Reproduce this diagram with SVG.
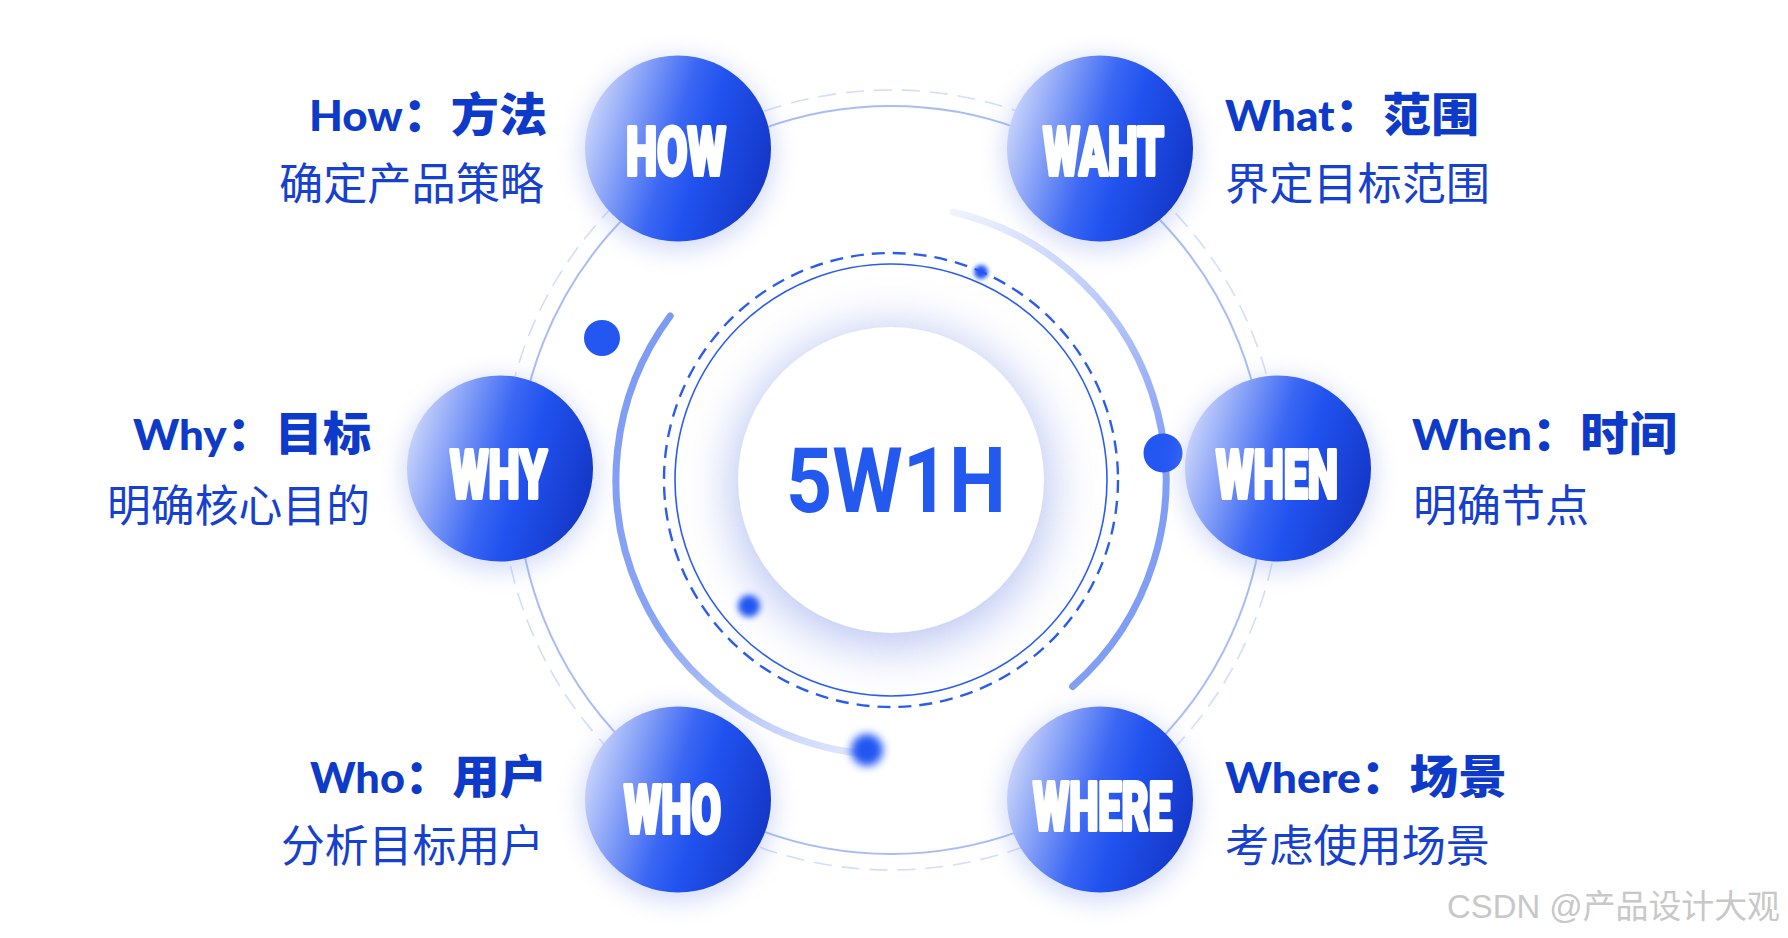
<svg xmlns="http://www.w3.org/2000/svg" width="1788" height="938" viewBox="0 0 1788 938">
<style>
.ring-solid{fill:none;stroke:#a9bcf8;stroke-width:2}
.ring-dash{fill:none;stroke:#d3ddfc;stroke-width:1.6;stroke-dasharray:18 10}
.inner-solid{fill:none;stroke:#2b5cf0;stroke-width:1.6}
.inner-dash{fill:none;stroke:#2b5cf0;stroke-width:2.4;stroke-dasharray:13 8}
.node-bg{fill:url(#nodeGrad)}
.node-glow{fill:#8fa3ef;opacity:0.4;filter:url(#blurNode)}
.node-label{font-family:Roboto,'Liberation Sans',sans-serif;font-weight:900;font-size:67.5px;fill:#fff;stroke:#fff;stroke-width:4;stroke-linejoin:round}
.title{font-family:'Noto Sans CJK SC','Noto Sans',sans-serif;font-weight:900;fill:#0e3ac9}
.lat{font-family:Lato,'Noto Sans CJK SC',sans-serif;font-weight:900;font-size:42px}
.cjk{font-size:46px}
.desc{font-family:'Noto Sans CJK SC',sans-serif;font-weight:400;font-size:44px;fill:#1640d0}
.dot{fill:#2456f2}
</style>
<defs>
  <linearGradient id="nodeGrad" x1="0.02" y1="0.35" x2="1" y2="0.65">
    <stop offset="0" stop-color="#c5d1fa"/>
    <stop offset="0.45" stop-color="#3b67f3"/>
    <stop offset="0.62" stop-color="#2152ef"/>
    <stop offset="1" stop-color="#1336c6"/>
  </linearGradient>
  <linearGradient id="arcLeft" gradientUnits="userSpaceOnUse" x1="670" y1="316" x2="867" y2="754">
    <stop offset="0" stop-color="#7e9bf4"/>
    <stop offset="0.6" stop-color="#8aa5f5"/>
    <stop offset="1" stop-color="#e3e9fd"/>
  </linearGradient>
  <linearGradient id="arcRight" gradientUnits="userSpaceOnUse" x1="953" y1="212" x2="1166" y2="470">
    <stop offset="0" stop-color="#f0f3fe"/>
    <stop offset="1" stop-color="#819ef5"/>
  </linearGradient>
  <filter id="blurNode" x="-50%" y="-50%" width="200%" height="200%"><feGaussianBlur stdDeviation="12"/></filter>
  <filter id="blurCenter" x="-50%" y="-50%" width="200%" height="200%"><feGaussianBlur stdDeviation="24"/></filter>
  <filter id="blur2" x="-100%" y="-100%" width="300%" height="300%"><feGaussianBlur stdDeviation="2"/></filter>
  <filter id="blur3" x="-100%" y="-100%" width="300%" height="300%"><feGaussianBlur stdDeviation="3"/></filter>
  <filter id="blur4" x="-100%" y="-100%" width="300%" height="300%"><feGaussianBlur stdDeviation="4"/></filter>
</defs>
<rect width="1788" height="938" fill="#ffffff"/>

<g id="connectors">
  <circle class="ring-dash" cx="891" cy="480" r="390"/>
  <circle class="ring-solid" cx="891" cy="480" r="374"/>
  <path d="M670.2 316 A275 275 0 0 0 867 754" fill="none" stroke="url(#arcLeft)" stroke-width="7" stroke-linecap="round"/>
  <path d="M952.9 212 A275 275 0 0 1 1072.6 686.5" fill="none" stroke="url(#arcRight)" stroke-width="7" stroke-linecap="round"/>
  <circle class="inner-dash" cx="891" cy="480" r="227"/>
  <circle class="inner-solid" cx="891" cy="480" r="216"/>
</g>

<g id="center">
  <circle cx="891" cy="488" r="160" fill="#a3b3ef" opacity="0.75" filter="url(#blurCenter)"/>
  <circle cx="891" cy="480" r="153" fill="#ffffff"/>
  <text x="896" y="512" text-anchor="middle" textLength="220" lengthAdjust="spacingAndGlyphs" font-family="Roboto,'Liberation Sans',sans-serif" font-weight="700" font-size="91" fill="#2459f0">5W1H</text>
</g>

<g id="dots">
  <circle class="dot" cx="602" cy="338" r="18"/>
  <circle class="dot" cx="1163" cy="453" r="19.5"/>
  <circle cx="981" cy="272" r="7" fill="#2456f2" filter="url(#blur2)"/>
  <circle cx="749" cy="606" r="11" fill="#2456f2" filter="url(#blur3)"/>
  <circle cx="867" cy="750" r="16" fill="#2456f2" filter="url(#blur4)"/>
</g>

<g id="node-how">
  <circle class="node-glow" cx="678" cy="154" r="96"/>
  <circle class="node-bg" cx="678" cy="148.5" r="93"/>
  <text class="node-label" transform="translate(626 175) scale(0.5 1)" textLength="200" lengthAdjust="spacingAndGlyphs">HOW</text>
  <text class="title" x="309" y="131" textLength="238" lengthAdjust="spacingAndGlyphs"><tspan class="lat">How</tspan><tspan class="cjk">：方法</tspan></text>
  <text class="desc" x="279" y="200" textLength="265" lengthAdjust="spacingAndGlyphs">确定产品策略</text>
</g>

<g id="node-what">
  <circle class="node-glow" cx="1100" cy="154" r="96"/>
  <circle class="node-bg" cx="1100" cy="148.5" r="93"/>
  <text class="node-label" transform="translate(1043 175) scale(0.5 1)" textLength="242" lengthAdjust="spacingAndGlyphs">WAHT</text>
  <text class="title" x="1225" y="131" textLength="254" lengthAdjust="spacingAndGlyphs"><tspan class="lat">What</tspan><tspan class="cjk">：范围</tspan></text>
  <text class="desc" x="1225" y="200" textLength="265" lengthAdjust="spacingAndGlyphs">界定目标范围</text>
</g>

<g id="node-why">
  <circle class="node-glow" cx="500" cy="474" r="96"/>
  <circle class="node-bg" cx="500" cy="468.5" r="93"/>
  <text class="node-label" transform="translate(450 498) scale(0.5 1)" textLength="194" lengthAdjust="spacingAndGlyphs">WHY</text>
  <text class="title" x="133" y="450" textLength="238" lengthAdjust="spacingAndGlyphs"><tspan class="lat">Why</tspan><tspan class="cjk">：目标</tspan></text>
  <text class="desc" x="107" y="522" textLength="263" lengthAdjust="spacingAndGlyphs">明确核心目的</text>
</g>

<g id="node-when">
  <circle class="node-glow" cx="1278" cy="474" r="96"/>
  <circle class="node-bg" cx="1278" cy="468.5" r="93"/>
  <text class="node-label" transform="translate(1216 498) scale(0.5 1)" textLength="244" lengthAdjust="spacingAndGlyphs">WHEN</text>
  <text class="title" x="1412" y="450" textLength="265" lengthAdjust="spacingAndGlyphs"><tspan class="lat">When</tspan><tspan class="cjk">：时间</tspan></text>
  <text class="desc" x="1413" y="522" textLength="176" lengthAdjust="spacingAndGlyphs">明确节点</text>
</g>

<g id="node-who">
  <circle class="node-glow" cx="678" cy="805" r="96"/>
  <circle class="node-bg" cx="678" cy="799.5" r="93"/>
  <text class="node-label" transform="translate(624 833) scale(0.5 1)" textLength="194" lengthAdjust="spacingAndGlyphs">WHO</text>
  <text class="title" x="310" y="793" textLength="237" lengthAdjust="spacingAndGlyphs"><tspan class="lat">Who</tspan><tspan class="cjk">：用户</tspan></text>
  <text class="desc" x="281" y="862" textLength="263" lengthAdjust="spacingAndGlyphs">分析目标用户</text>
</g>

<g id="node-where">
  <circle class="node-glow" cx="1100" cy="805" r="96"/>
  <circle class="node-bg" cx="1100" cy="799.5" r="93"/>
  <text class="node-label" transform="translate(1033 830) scale(0.5 1)" textLength="278" lengthAdjust="spacingAndGlyphs">WHERE</text>
  <text class="title" x="1225" y="793" textLength="282" lengthAdjust="spacingAndGlyphs"><tspan class="lat">Where</tspan><tspan class="cjk">：场景</tspan></text>
  <text class="desc" x="1225" y="862" textLength="265" lengthAdjust="spacingAndGlyphs">考虑使用场景</text>
</g>

<text id="watermark" x="1447" y="918" font-family="'Liberation Sans','Noto Sans CJK SC',sans-serif" font-size="33" fill="#c8c8c8" textLength="333" lengthAdjust="spacingAndGlyphs">CSDN @产品设计大观</text>
</svg>
